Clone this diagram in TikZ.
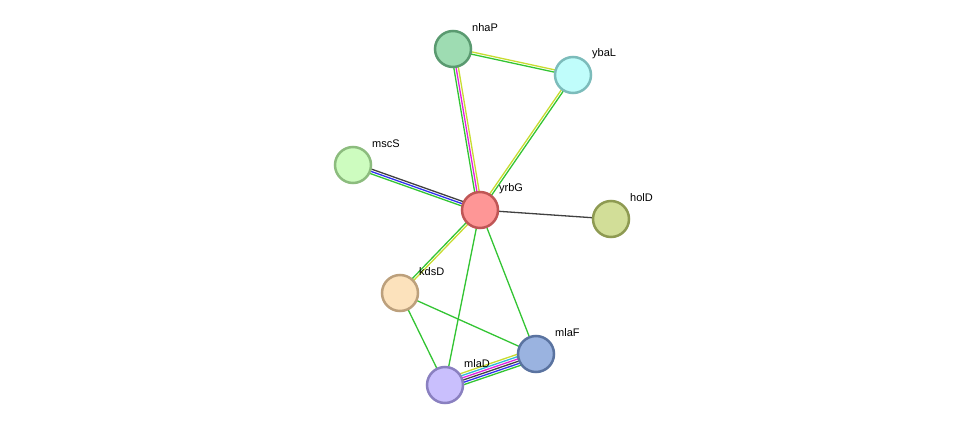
\documentclass[tikz,border=0pt]{standalone}
\usepackage{fontspec}
\setmainfont{Liberation Sans}
\usetikzlibrary{calc}
\definecolor{eg}{HTML}{33C433}
\definecolor{ey}{HTML}{C8DC30}
\definecolor{em}{HTML}{E020E0}
\definecolor{eb}{HTML}{3030F0}
\definecolor{ek}{HTML}{404040}
\definecolor{ec}{HTML}{30B8D8}
\definecolor{f1}{HTML}{9EDCB2}\definecolor{s1}{HTML}{5A9A70}
\definecolor{f2}{HTML}{C0FDFB}\definecolor{s2}{HTML}{7CBCBB}
\definecolor{f3}{HTML}{CDFCBF}\definecolor{s3}{HTML}{8CBC7E}
\definecolor{f4}{HTML}{FE9696}\definecolor{s4}{HTML}{C05656}
\definecolor{f5}{HTML}{D2DE98}\definecolor{s5}{HTML}{8E9A52}
\definecolor{f6}{HTML}{FCE2BC}\definecolor{s6}{HTML}{BCA07C}
\definecolor{f7}{HTML}{9AB3E0}\definecolor{s7}{HTML}{5A73A0}
\definecolor{f8}{HTML}{C9BFFD}\definecolor{s8}{HTML}{8A80C0}
\newcommand{\mEdge}[3]{%
  \foreach \c [count=\i] in {#3} {\global\let\nn\i}%
  \foreach \c [count=\i] in {#3} {%
    \pgfmathsetmacro{\off}{(\i-(\nn+1)/2)*2.3}%
    \draw[\c,line width=1.3pt] ($(#1)!\off pt!90:(#2)$) -- ($(#2)!\off pt!-90:(#1)$);
  }}
\tikzset{prot/.style={circle,minimum size=36pt,inner sep=0pt,line width=2.5pt},
  lab/.style={anchor=west,font=\fontsize{11pt}{12pt}\selectfont,inner sep=0pt}}
\begin{document}
\begin{tikzpicture}[x=1pt,y=-1pt]
\useasboundingbox (0,0) rectangle (975,431);
\coordinate (nhaP) at (453,49);
\coordinate (ybaL) at (573,75);
\coordinate (mscS) at (353,165);
\coordinate (yrbG) at (480,210);
\coordinate (holD) at (611,219);
\coordinate (kdsD) at (400,293);
\coordinate (mlaF) at (536,354);
\coordinate (mlaD) at (445,385);
\mEdge{nhaP}{ybaL}{eg,ey}
\mEdge{nhaP}{yrbG}{eg,em,ey}
\mEdge{ybaL}{yrbG}{ey,eg}
\mEdge{mscS}{yrbG}{eg,eb,ek}
\mEdge{yrbG}{holD}{ek}
\mEdge{yrbG}{kdsD}{eg,ey}
\mEdge{yrbG}{mlaD}{eg}
\mEdge{yrbG}{mlaF}{eg}
\mEdge{kdsD}{mlaF}{eg}
\mEdge{kdsD}{mlaD}{eg}
\mEdge{mlaD}{mlaF}{eg,eb,ek,em,ec,ey}
\node[prot,fill=f1,draw=s1] (n1) at (nhaP) {};
\node[prot,fill=f2,draw=s2] (n2) at (ybaL) {};
\node[prot,fill=f3,draw=s3] (n3) at (mscS) {};
\node[prot,fill=f4,draw=s4] (n4) at (yrbG) {};
\node[prot,fill=f5,draw=s5] (n5) at (holD) {};
\node[prot,fill=f6,draw=s6] (n6) at (kdsD) {};
\node[prot,fill=f7,draw=s7] (n7) at (mlaF) {};
\node[prot,fill=f8,draw=s8] (n8) at (mlaD) {};
\node[lab] (l1) at (472,28) {nhaP};
\node[lab] (l2) at (592,54) {ybaL};
\node[lab] (l3) at (372,144) {mscS};
\node[lab] (l4) at (499,189) {yrbG};
\node[lab] (l5) at (630,198) {holD};
\node[lab] (l6) at (419,272) {kdsD};
\node[lab] (l7) at (555,333) {mlaF};
\node[lab] (l8) at (464,364) {mlaD};
\end{tikzpicture}
\end{document}
